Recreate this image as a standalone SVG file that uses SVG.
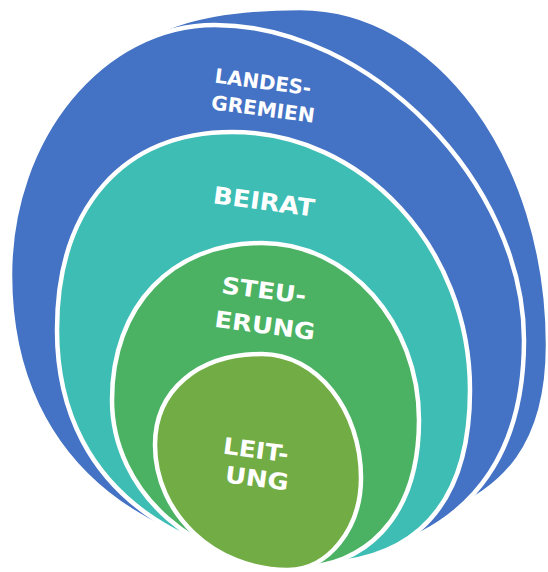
<svg xmlns="http://www.w3.org/2000/svg" width="548" height="572" viewBox="0 0 548 572">
<style>
.ring{stroke:#fff;stroke-width:4.5;stroke-linejoin:round}
.blue{fill:#4472C4}
.teal{fill:#3DBDB4}
.green{fill:#4BB264}
.olive{fill:#72AC45}
.lbl{fill:#fff;font-family:"DejaVu Sans","Open Sans","Liberation Sans",sans-serif;font-weight:700;text-anchor:middle}
</style>
<rect width="548" height="572" fill="#fff"/>
<g id="landesgremien">
<path class="ring blue" d="M110,70 C135,30 200,8 300,8 C437,8 548,159 548,345 C548,440 510,495 420,522 L300,300 Z"/>
<path class="ring blue" d="M215,25 C369.5,25 524,182.5 524,340 C524,504 414.5,559 305,559 C172,559 10,479.5 10,275 C10,137.5 102.3,25 215,25 Z"/>
<text class="lbl" x="263" y="89" font-size="20" textLength="97" lengthAdjust="spacingAndGlyphs" transform="rotate(7.5 263 82)">LANDES-</text>
<text class="lbl" x="263" y="116" font-size="20" textLength="104" lengthAdjust="spacingAndGlyphs" transform="rotate(7.5 263 109)">GREMIEN</text>
</g>
<g id="beirat">
<path class="ring teal" d="M232,132 C362.9,132 470,248.1 470,390 C470,529 390,564 310,564 C209,564 57,505.5 57,330 C57,207 123.5,132 232,132 Z"/>
<text class="lbl" x="264" y="210" font-size="24" textLength="102" lengthAdjust="spacingAndGlyphs" transform="rotate(7.5 264 201.5)">BEIRAT</text>
</g>
<g id="steuerung">
<path class="ring green" d="M262,243 C348.4,243 419,322.7 419,420 C419,523 359.5,567 300,567 C196.6,567 112,492 112,400 C112,305.8 172,243 262,243 Z"/>
<text class="lbl" x="264" y="298.5" font-size="23" textLength="85" lengthAdjust="spacingAndGlyphs" transform="rotate(7.5 264 290)">STEU-</text>
<text class="lbl" x="265" y="333.5" font-size="23" textLength="101" lengthAdjust="spacingAndGlyphs" transform="rotate(7.5 265 325)">ERUNG</text>
</g>
<g id="leitung">
<path class="ring olive" d="M262,354 C316.5,354 361,409.8 361,478 C361,528.6 328.2,570 288,570 C214.9,570 155,513.8 155,445 C155,390.4 197.8,354 262,354 Z"/>
<text class="lbl" x="256" y="458" font-size="23" textLength="66" lengthAdjust="spacingAndGlyphs" transform="rotate(7.5 256 449.5)">LEIT-</text>
<text class="lbl" x="257" y="486.5" font-size="23" textLength="64" lengthAdjust="spacingAndGlyphs" transform="rotate(7.5 257 478)">UNG</text>
</g>
</svg>
